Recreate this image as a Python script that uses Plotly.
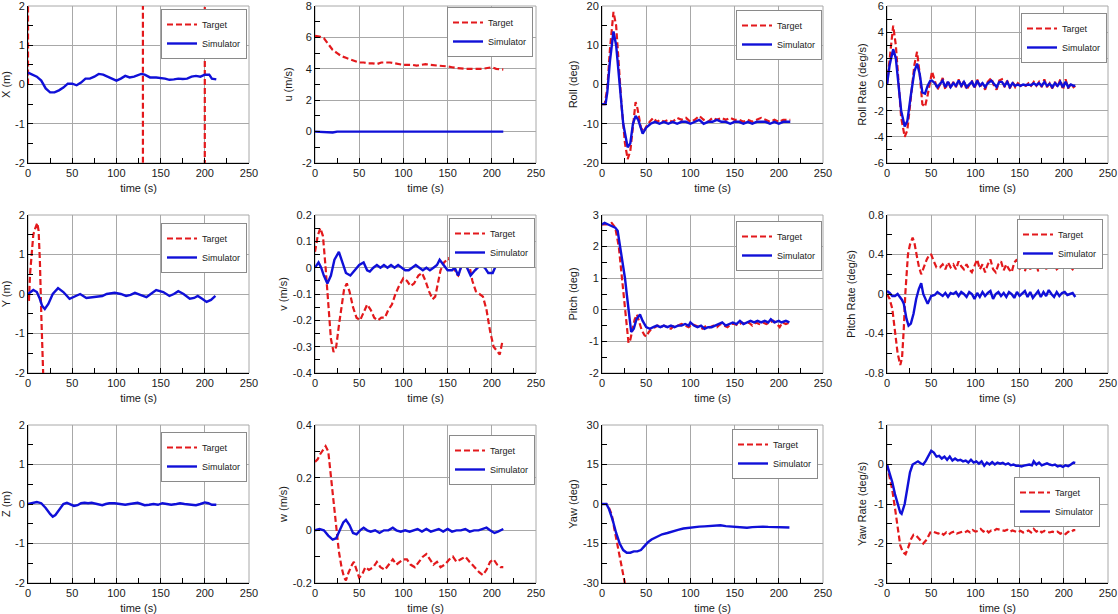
import plotly.graph_objects as go

W, H = 1118, 614
RED = "#e3191c"
BLUE = "#1010d8"
FONT = "Liberation Sans, Arial, sans-serif"

# ---------------- data ----------------
time_ticks = [0, 50, 100, 150, 200, 250]
time_ticktext = ["0", "50", "100", "150", "200", "250"]

# X (m)
x_tgt_t = [0, 1, 129.5, 130.5, 199.5, 200.5, 213]
x_tgt = [0, 500, 500, -500, -500, 500, 500]
x_sim_t = [0, 5, 10, 15, 20, 25, 30, 35, 40, 45, 50, 55, 60, 65, 70, 75, 80, 85, 90, 95, 100, 105, 110, 115, 120, 128, 132, 138, 145, 155, 160, 165, 170, 175, 180, 185, 190, 195, 200, 205, 208, 213]
x_sim = [0.3, 0.25, 0.2, 0.1, -0.1, -0.2, -0.2, -0.15, -0.08, 0.02, 0.02, -0.02, 0.05, 0.15, 0.15, 0.2, 0.27, 0.25, 0.2, 0.15, 0.1, 0.15, 0.22, 0.18, 0.2, 0.27, 0.25, 0.18, 0.18, 0.15, 0.12, 0.13, 0.15, 0.14, 0.15, 0.2, 0.22, 0.2, 0.25, 0.25, 0.15, 0.13]

# u (m/s)
u_tgt_t = [0, 5, 10, 15, 20, 25, 30, 35, 40, 45, 50, 55, 60, 65, 70, 75, 80, 85, 90, 95, 100, 110, 115, 120, 125, 130, 140, 145, 150, 155, 160, 170, 180, 190, 195, 200, 205, 213]
u_tgt = [6.1, 6.05, 5.95, 5.6, 5.2, 5.0, 4.8, 4.7, 4.6, 4.5, 4.4, 4.4, 4.35, 4.35, 4.3, 4.4, 4.4, 4.4, 4.35, 4.3, 4.25, 4.25, 4.2, 4.25, 4.3, 4.25, 4.2, 4.2, 4.15, 4.1, 4.05, 4.0, 4.0, 4.0, 4.05, 4.1, 4.0, 3.95]
u_sim_t = [0, 10, 15, 20, 25, 40, 60, 80, 100, 120, 140, 160, 180, 200, 213]
u_sim = [0, -0.03, -0.06, -0.06, 0, 0, 0.02, 0, 0.01, 0, 0, 0, 0, 0.02, 0]

# Roll (deg)
roll_tgt_t = [0, 3, 6, 9, 13, 16, 19, 22, 26, 29, 32, 35, 38, 40, 44, 47, 52, 56, 58, 62, 66, 70, 75, 80, 85, 90, 95, 100, 105, 110, 115, 120, 125, 130, 135, 140, 145, 150, 155, 160, 165, 170, 175, 180, 185, 190, 195, 200, 205, 213]
roll_tgt = [-5, -5, -1, 9, 18.5, 15, 5, -5, -15, -19, -17, -10, -4.5, -6, -11, -12, -10, -9, -8.5, -9.5, -9, -9.5, -9, -9.5, -8.5, -9, -8.5, -9.5, -9, -8, -9, -9.5, -8.5, -9, -8.5, -9, -8.5, -9, -9, -9.5, -9, -9.5, -9, -8.5, -9, -9.5, -9, -9.5, -9, -9]
roll_sim_t = [0, 4, 6, 9, 13, 16, 20, 24, 29, 32, 35, 38, 41, 46, 50, 55, 60, 65, 70, 75, 80, 85, 90, 95, 100, 105, 110, 115, 120, 125, 130, 135, 140, 145, 150, 155, 160, 165, 170, 175, 180, 185, 190, 195, 200, 205, 213]
roll_sim = [-5, -5, -2, 6, 13.5, 10, 0, -10, -16, -15, -10, -8, -9, -12.5, -11, -10, -9.5, -10, -9.5, -10, -9.5, -10, -9.5, -9.5, -10, -9.5, -9, -10, -9.5, -9.5, -9, -9.5, -9.5, -10, -9.5, -9.5, -10, -9.5, -10, -9.5, -9.5, -9.5, -10, -9.5, -10, -9.5, -9.5]

# Roll Rate (deg/s)
rollrate_t = [0, 3, 7, 10, 13, 16, 20, 23, 27, 31, 34, 37, 40, 43, 46, 49, 51, 54, 57, 60, 63, 66, 69, 72, 75, 78, 81, 84, 87, 90, 93, 96, 99, 102, 105, 108, 111, 114, 118, 121, 124, 127, 130, 133, 136, 139, 142, 145, 148, 151, 154, 157, 160, 163, 166, 169, 172, 175, 178, 181, 184, 187, 190, 193, 196, 199, 202, 205, 208, 211, 213]
rollrate_tgt = [0, 2, 4.5, 3, 0, -2.5, -4, -3.5, -1, 1.5, 2.5, 0.8, -1.5, -1.7, -0.8, 0.5, 1, 0.3, -0.4, 0, 0.5, -0.4, 0.3, -0.3, 0.2, -0.2, 0.4, -0.2, 0.3, -0.4, 0, 0.3, -0.3, 0.4, -0.2, 0.1, -0.4, 0.2, 0.5, -0.1, -0.4, 0.3, 0.4, -0.2, 0.3, -0.3, 0.2, -0.2, 0.1, -0.1, 0, -0.1, 0.1, -0.1, 0.2, -0.1, 0.2, -0.2, 0.4, -0.2, 0.1, -0.3, 0.2, -0.2, 0.4, -0.4, 0.4, -0.3, 0.1, -0.2, -0.1]
rollrate_sim = [0, 1.5, 2.7, 2, 0, -2, -3.2, -2.8, -0.8, 1, 1.6, 0.8, -0.6, -0.7, -0.1, 0.3, 0.3, 0.1, -0.2, 0.1, 0.3, -0.2, 0.2, -0.2, 0.1, -0.1, 0.3, -0.1, 0.2, -0.2, 0, 0.2, -0.2, 0.3, -0.1, 0.1, -0.2, 0.1, 0.3, 0, -0.2, 0.2, 0.2, -0.1, 0.2, -0.2, 0.1, -0.1, 0, -0.1, 0, -0.05, 0, -0.05, 0.1, -0.05, 0.1, -0.1, 0.2, -0.1, 0.05, -0.2, 0.1, -0.1, 0.2, -0.2, 0.2, -0.2, 0, -0.1, -0.1]

# Y (m)
y_tgt_t = [0, 1, 2.3, 4, 6, 8, 10.5, 12, 13.5, 15, 16.6, 18, 20, 60, 120, 213]
y_tgt = [0, -0.2, 0.5, 0.9, 1.5, 1.65, 1.8, 1.6, 0.8, -0.5, -2, -3, -4, -12, -22, -35]
y_sim_t = [0, 6, 10, 13, 16, 19, 23, 28, 34, 40, 47, 53, 59, 66, 72, 78, 84, 89, 98, 105, 111, 116, 121, 127, 134, 140, 145, 153, 160, 165, 170, 176, 183, 188, 192, 197, 202, 207, 212]
y_sim = [0, 0.1, 0.05, -0.1, -0.3, -0.38, -0.25, 0, 0.15, 0.05, -0.12, -0.05, 0, -0.1, -0.08, -0.07, -0.05, 0, 0.03, 0, -0.05, -0.02, 0.03, -0.02, -0.08, 0.02, 0.1, 0.05, -0.05, 0, 0.07, 0, -0.12, -0.1, -0.05, -0.12, -0.2, -0.15, -0.05]

# v (m/s)
v_tgt_t = [0, 3, 6, 9, 12, 15, 18, 21, 24, 27, 30, 33, 36, 39, 43, 47, 51, 55, 59, 63, 67, 71, 75, 79, 83, 87, 91, 95, 100, 104, 108, 112, 117, 121, 125, 129, 133, 136, 139, 142, 146, 151, 155, 159, 162, 166, 170, 174, 178, 182, 186, 190, 194, 198, 202, 206, 209, 212]
v_tgt = [0.06, 0.12, 0.15, 0.12, 0.0, -0.15, -0.27, -0.32, -0.3, -0.22, -0.14, -0.08, -0.06, -0.09, -0.15, -0.19, -0.2, -0.17, -0.14, -0.16, -0.19, -0.2, -0.19, -0.19, -0.16, -0.14, -0.1, -0.07, -0.04, -0.05, -0.07, -0.06, -0.03, -0.02, -0.05, -0.09, -0.12, -0.11, -0.06, -0.01, 0.02, 0.035, 0.02, -0.02, -0.03, 0.01, 0.06, 0.02, -0.05, -0.09, -0.1, -0.11, -0.16, -0.24, -0.3, -0.32, -0.33, -0.28]
v_sim_t = [0, 4, 7, 10, 14, 18, 22, 27, 31, 35, 40, 45, 50, 55, 59, 62, 66, 70, 74, 78, 82, 86, 90, 94, 98, 102, 106, 110, 114, 118, 122, 126, 130, 134, 138, 141, 145, 150, 155, 158, 162, 167, 172, 176, 181, 187, 192, 196, 201, 205, 210, 212]
v_sim = [0, 0.02, 0.0, -0.03, -0.06, -0.03, 0.03, 0.06, 0.02, -0.02, -0.03, -0.01, 0.01, 0.02, -0.01, -0.015, 0.0, 0.01, 0.0, 0.01, 0.0, 0.01, 0.0, 0.01, 0.0, -0.01, -0.01, 0.0, 0.01, 0.0, -0.01, 0.0, -0.01, 0.0, 0.01, 0.03, 0.01, -0.01, -0.01, 0.0, -0.03, 0.02, 0.0, -0.03, -0.01, 0.01, 0.0, -0.02, -0.02, 0.01, 0.025, 0.015]

# Pitch (deg)
pitch_tgt_t = [0, 5, 11, 15, 19, 22.5, 25.5, 28, 30, 32, 35, 37, 39.5, 42, 45, 48, 50, 53, 56, 60, 63, 66, 70, 74, 78, 82, 86, 90, 94, 98, 102, 106, 110, 114, 118, 122, 126, 130, 134, 138, 142, 146, 150, 154, 158, 162, 166, 170, 174, 178, 182, 186, 190, 194, 198, 201, 204, 208, 212]
pitch_tgt = [2.7, 2.7, 2.75, 2.6, 2.0, 1.0, 0.0, -0.7, -1.05, -0.95, -0.6, -0.3, -0.15, -0.35, -0.65, -0.8, -0.85, -0.7, -0.6, -0.55, -0.5, -0.55, -0.5, -0.55, -0.6, -0.5, -0.5, -0.45, -0.5, -0.55, -0.45, -0.5, -0.55, -0.6, -0.5, -0.55, -0.5, -0.55, -0.45, -0.5, -0.55, -0.45, -0.45, -0.5, -0.4, -0.45, -0.4, -0.5, -0.4, -0.45, -0.4, -0.45, -0.4, -0.35, -0.45, -0.55, -0.4, -0.45, -0.4]
pitch_sim_t = [0, 3, 7, 12, 15, 17.7, 20.7, 23.5, 26, 28, 30, 33, 36, 39, 43, 46, 50, 54, 58, 62, 66, 70, 74, 78, 82, 86, 90, 94, 98, 100, 104, 108, 112, 116, 120, 124, 128, 132, 136, 140, 144, 148, 152, 156, 160, 164, 168, 172, 176, 180, 184, 188, 191, 195, 200, 203, 208, 212]
pitch_sim = [2.7, 2.75, 2.7, 2.65, 2.6, 2.5, 2.0, 1.5, 1.0, 0.5, 0.0, -0.7, -0.6, -0.3, -0.15, -0.35, -0.55, -0.6, -0.55, -0.5, -0.55, -0.5, -0.55, -0.5, -0.55, -0.5, -0.5, -0.45, -0.5, -0.4, -0.5, -0.55, -0.5, -0.6, -0.55, -0.55, -0.5, -0.45, -0.4, -0.5, -0.45, -0.4, -0.45, -0.35, -0.45, -0.4, -0.35, -0.4, -0.35, -0.4, -0.35, -0.4, -0.3, -0.4, -0.35, -0.4, -0.35, -0.4]

# Pitch Rate (deg/s)
pitchrate_tgt_t = [0, 3, 6, 9, 12, 15, 17, 19, 20.7, 23.7, 26, 29, 31, 33, 36, 38.7, 42, 45, 48, 50, 53, 56, 60, 63, 66, 69, 72, 75, 78, 81, 84, 87, 90, 93, 96, 99, 102, 105, 108, 111, 114, 117, 120, 123, 126, 129, 132, 135, 138, 141, 144, 147, 150, 153, 156, 159, 162, 165, 168, 171, 174, 177, 180, 183, 186, 189, 192, 195, 198, 201, 204, 207, 210, 213]
pitchrate_tgt = [0, -0.05, -0.15, -0.35, -0.6, -0.72, -0.65, -0.35, 0.0, 0.4, 0.5, 0.57, 0.52, 0.42, 0.28, 0.2, 0.28, 0.35, 0.4, 0.4, 0.33, 0.27, 0.27, 0.3, 0.25, 0.32, 0.27, 0.3, 0.25, 0.33, 0.28, 0.25, 0.3, 0.25, 0.22, 0.28, 0.35, 0.25, 0.3, 0.22, 0.3, 0.35, 0.25, 0.22, 0.3, 0.33, 0.24, 0.3, 0.25, 0.22, 0.32, 0.35, 0.25, 0.3, 0.23, 0.33, 0.25, 0.3, 0.35, 0.23, 0.3, 0.35, 0.25, 0.3, 0.27, 0.3, 0.25, 0.28, 0.3, 0.25, 0.32, 0.28, 0.25, 0.28]
pitchrate_sim_t = [0, 3, 6, 9, 12, 15, 17, 19, 22, 24.4, 27, 30, 33, 36, 38.7, 41, 43.5, 46, 50, 54, 57, 60, 63, 66, 69, 72, 75, 78, 81, 84, 87, 90, 93, 96, 99, 102, 105, 108, 111, 114, 117, 120, 123, 126, 129, 132, 135, 138, 141, 144, 147, 150, 153, 156, 159, 162, 165, 168, 171, 174, 177, 180, 183, 186, 189, 192, 195, 198, 201, 204, 207, 210, 213]
pitchrate_sim = [0.03, 0.01, -0.02, -0.02, 0.0, -0.03, -0.06, -0.1, -0.25, -0.32, -0.3, -0.2, -0.05, 0.05, 0.11, 0.0, -0.05, -0.1, -0.02, -0.01, 0.02, 0.0, -0.02, 0.01, -0.03, 0.01, 0.0, 0.02, -0.02, 0.02, 0.0, -0.03, 0.02, 0.0, -0.05, 0.01, -0.03, 0.02, -0.02, 0.01, 0.03, -0.05, 0.0, 0.02, -0.02, 0.01, -0.03, 0.02, 0.0, -0.04, 0.02, -0.02, 0.01, 0.03, -0.03, 0.02, -0.04, 0.0, 0.03, -0.03, 0.02, -0.02, 0.04, 0.0, -0.03, 0.02, -0.02, 0.01, 0.02, -0.01, 0.0, 0.01, -0.03]

# Z (m)
z_tgt_t = [0, 213]
z_tgt = [4, 4]
z_sim_t = [0, 5, 10, 15, 20, 25, 28, 31, 35, 40, 44, 48, 52, 56, 60, 64, 68, 72, 78, 84, 88, 92, 98, 105, 110, 115, 120, 124, 128, 132, 137, 142, 147, 152, 157, 162, 168, 172, 177, 185, 190, 195, 200, 204, 208, 213]
z_sim = [0, 0.02, 0.05, 0.02, -0.1, -0.25, -0.32, -0.28, -0.15, 0, 0.03, 0, -0.05, -0.03, 0.02, 0.03, 0.02, 0.03, 0.0, -0.03, 0, 0.02, 0.02, 0.0, -0.02, 0.0, 0.02, 0.03, 0.0, -0.03, -0.02, 0, -0.02, 0.02, 0.0, -0.02, 0.0, 0.02, 0.0, -0.03, -0.03, 0, 0.04, 0.02, -0.02, -0.02]

# w (m/s)
w_tgt_t = [0, 3, 6, 10, 12, 15, 18, 21, 24, 27, 30, 33, 35, 38, 42, 44, 47, 50, 53, 57, 61, 66, 70, 74, 79, 84, 88, 92, 96, 100, 104, 108, 113, 118, 122, 126, 130, 134, 138, 142, 147, 152, 156, 160, 165, 170, 175, 180, 186, 190, 194, 198, 202, 206, 210, 213]
w_tgt = [0.26, 0.27, 0.29, 0.31, 0.32, 0.3, 0.2, 0.1, 0.02, -0.08, -0.14, -0.18, -0.19, -0.16, -0.13, -0.12, -0.15, -0.18, -0.17, -0.14, -0.15, -0.14, -0.12, -0.14, -0.15, -0.13, -0.11, -0.13, -0.12, -0.11, -0.11, -0.13, -0.14, -0.12, -0.1, -0.09, -0.11, -0.13, -0.12, -0.14, -0.13, -0.11, -0.1, -0.12, -0.11, -0.1, -0.12, -0.14, -0.16, -0.17, -0.15, -0.12, -0.11, -0.13, -0.14, -0.14]
w_sim_t = [0, 5, 10, 15, 20, 24, 28, 32, 35, 39, 43, 47, 51, 55, 59, 63, 68, 73, 78, 83, 88, 92, 97, 102, 107, 112, 116, 121, 126, 131, 136, 140, 145, 150, 155, 160, 165, 170, 175, 180, 185, 190, 194, 198, 203, 207, 213]
w_sim = [0, 0.005, 0.0, -0.02, -0.035, -0.03, 0.0, 0.03, 0.04, 0.02, -0.01, -0.015, 0.0, 0.01, 0.0, -0.005, 0.0, -0.01, 0.0, 0.0, 0.01, 0, -0.005, 0.0, -0.005, 0.0, 0.005, -0.005, 0.005, -0.005, 0.0, 0.005, -0.005, 0.005, -0.005, 0.0, 0.0, 0.005, -0.005, 0, 0.0, 0.005, 0.01, 0.0, -0.01, -0.005, 0.005]

# Yaw (deg)
yaw_tgt_t = [0, 5, 8, 11, 14, 17, 20, 23.7, 30, 60, 120, 213]
yaw_tgt = [0, 0, -1.5, -4, -9.5, -16, -22.5, -30, -40, -92, -195, -355]
yaw_sim_t = [0, 5, 8, 12, 16, 20, 24, 28, 32, 36, 40, 44, 48, 52, 56, 62, 68, 74, 80, 86, 92, 98, 104, 110, 116, 122, 128, 134, 140, 146, 152, 158, 164, 170, 176, 182, 188, 194, 200, 206, 212]
yaw_sim = [0, 0, -2, -6, -11, -15, -17.5, -18.5, -18.5, -18, -18, -17.5, -16, -14.5, -13.5, -12.5, -11.5, -11, -10.3, -9.8, -9.3, -9, -8.7, -8.6, -8.5, -8.4, -8.2, -8.1, -8.4, -8.6, -8.8, -8.8, -9.0, -8.8, -8.6, -8.6, -8.7, -8.8, -8.9, -9.0, -8.9]

# Yaw Rate (deg/s)
yawrate_tgt_t = [0, 3, 6, 9, 12, 15, 18, 21, 24, 27, 30, 33, 37, 41, 45, 49, 52, 55, 58, 61, 64, 67, 70, 73, 76, 79, 82, 85, 88, 91, 94, 97, 100, 103, 106, 109, 112, 115, 118, 121, 124, 127, 130, 133, 136, 139, 142, 145, 148, 151, 154, 157, 160, 163, 166, 169, 172, 175, 178, 181, 184, 187, 190, 193, 196, 199, 202, 205, 208, 211, 213]
yawrate_tgt = [0, -0.3, -0.65, -1.1, -1.65, -2.05, -2.22, -2.27, -2.1, -1.9, -1.78, -1.8, -1.9, -2.0, -1.9, -1.72, -1.7, -1.72, -1.75, -1.72, -1.78, -1.72, -1.77, -1.72, -1.7, -1.75, -1.72, -1.7, -1.72, -1.68, -1.72, -1.66, -1.7, -1.68, -1.63, -1.7, -1.65, -1.72, -1.67, -1.68, -1.63, -1.65, -1.66, -1.68, -1.65, -1.7, -1.67, -1.7, -1.72, -1.68, -1.72, -1.7, -1.67, -1.72, -1.63, -1.7, -1.66, -1.72, -1.68, -1.7, -1.72, -1.7, -1.72, -1.7, -1.75, -1.72, -1.76, -1.7, -1.72, -1.66, -1.66]
yawrate_sim_t = [0, 3, 6, 9, 12, 15, 16.5, 18, 20, 23, 26, 29, 32, 35, 38, 41, 44, 48, 50, 53, 56, 59, 62, 65, 68, 71, 74, 77, 80, 83, 86, 89, 92, 95, 98, 101, 104, 107, 110, 113, 116, 119, 122, 125, 128, 131, 134, 137, 140, 143, 146, 149, 152, 155, 158, 161, 164, 166, 169, 172, 175, 178, 181, 184, 187, 190, 193, 196, 199, 202, 205, 208, 211, 213]
yawrate_sim = [0, -0.2, -0.45, -0.75, -1.0, -1.22, -1.25, -1.15, -1.0, -0.6, -0.2, 0.0, 0.05, 0.08, 0.03, 0.0, 0.1, 0.25, 0.35, 0.3, 0.2, 0.22, 0.15, 0.2, 0.12, 0.2, 0.1, 0.15, 0.1, 0.12, 0.08, 0.1, 0.05, 0.12, 0.05, 0.08, 0.02, 0.08, -0.03, 0.05, 0.0, 0.06, 0.0, 0.05, 0.02, 0.04, 0.0, 0.03, -0.02, 0.0, -0.03, -0.03, -0.05, -0.03, -0.02, 0.0, -0.02, 0.08, 0.0, 0.05, -0.02, 0.0, 0.03, 0.0, -0.02, 0.0, -0.05, -0.03, -0.06, -0.02, -0.04, 0.0, 0.05, 0.04]

# y-axis tick values / labels
ticks_pm2 = [-2, -1, 0, 1, 2]
ticks_u = [-2, 0, 2, 4, 6, 8]
ticks_roll = [-20, -10, 0, 10, 20]
ticks_rollrate = [-6, -4, -2, 0, 2, 4, 6]
ticks_v = [-0.4, -0.3, -0.2, -0.1, 0, 0.1, 0.2]
ticks_v_text = ["-0.4", "-0.3", "-0.2", "-0.1", "0", "0.1", "0.2"]
ticks_pitch = [-2, -1, 0, 1, 2, 3]
ticks_pitchrate = [-0.8, -0.4, 0, 0.4, 0.8]
ticks_pitchrate_text = ["-0.8", "-0.4", "0", "0.4", "0.8"]
ticks_w = [-0.2, 0, 0.2, 0.4]
ticks_w_text = ["-0.2", "0", "0.2", "0.4"]
ticks_yaw = [-30, -15, 0, 15, 30]
ticks_yawrate = [-3, -2, -1, 0, 1]

# ---------------- layout geometry (pixels) ----------------
col_px = [(28, 249), (315, 536), (602, 823), (887, 1108)]
row_px = [(6, 163), (215, 373), (425, 583)]

panels = [
    # row, col, title, ticks, ticktext, minor, target, sim, legend (right px, top px), ytitle standoff
    (0, 0, "X (m)", ticks_pm2, None, 0.5, (x_tgt_t, x_tgt), (x_sim_t, x_sim), (247, 9), 2),
    (0, 1, "u (m/s)", ticks_u, None, 1, (u_tgt_t, u_tgt), (u_sim_t, u_sim), (533, 7), 7),
    (0, 2, "Roll (deg)", ticks_roll, None, 5, (roll_tgt_t, roll_tgt), (roll_sim_t, roll_sim), (822, 10), 3),
    (0, 3, "Roll Rate (deg/s)", ticks_rollrate, None, 1, (rollrate_t, rollrate_tgt), (rollrate_t, rollrate_sim), (1107, 13), 5),
    (1, 0, "Y (m)", ticks_pm2, None, 0.5, (y_tgt_t, y_tgt), (y_sim_t, y_sim), (247, 223), 3),
    (1, 1, "v (m/s)", ticks_v, ticks_v_text, 0.05, (v_tgt_t, v_tgt), (v_sim_t, v_sim), (535, 218), 2),
    (1, 2, "Pitch (deg)", ticks_pitch, None, 0.5, (pitch_tgt_t, pitch_tgt), (pitch_sim_t, pitch_sim), (822, 221), 9),
    (1, 3, "Pitch Rate (deg/s)", ticks_pitchrate, ticks_pitchrate_text, 0.2, (pitchrate_tgt_t, pitchrate_tgt), (pitchrate_sim_t, pitchrate_sim), (1103, 219), 6),
    (2, 0, "Z (m)", ticks_pm2, None, 0.5, (z_tgt_t, z_tgt), (z_sim_t, z_sim), (247, 432), 3),
    (2, 1, "w (m/s)", ticks_w, ticks_w_text, 0.1, (w_tgt_t, w_tgt), (w_sim_t, w_sim), (535, 435), 2),
    (2, 2, "Yaw (deg)", ticks_yaw, None, 7.5, (yaw_tgt_t, yaw_tgt), (yaw_sim_t, yaw_sim), (818, 429), 3),
    (2, 3, "Yaw Rate (deg/s)", ticks_yawrate, None, 0.5, (yawrate_tgt_t, yawrate_tgt), (yawrate_sim_t, yawrate_sim), (1100, 477), 5),
]

fig = go.Figure()
layout = dict(
    width=W, height=H, autosize=False,
    margin=dict(l=0, r=0, t=0, b=0, pad=0, autoexpand=False),
    paper_bgcolor="white", plot_bgcolor="white",
    font=dict(family=FONT, size=11, color="#1a1a1a"),
    shapes=[],
)

GRID = "#a8a8a8"
for i, (r, c, title, tv, tt, minor, tgt, sim, leg, ystand) in enumerate(panels):
    n = i + 1
    sfx = "" if n == 1 else str(n)
    xa, ya, lg = "x" + sfx, "y" + sfx, "legend" + sfx
    fig.add_trace(go.Scatter(x=tgt[0], y=tgt[1], xaxis=xa, yaxis=ya, legend=lg,
                             name="Target", mode="lines",
                             line=dict(color=RED, width=2.2, dash="6px,3px")))
    fig.add_trace(go.Scatter(x=sim[0], y=sim[1], xaxis=xa, yaxis=ya, legend=lg,
                             name="Simulator", mode="lines",
                             line=dict(color=BLUE, width=2.4)))
    x0, x1 = col_px[c]
    y0, y1 = row_px[r]
    common = dict(showline=True, linecolor="black", linewidth=1, mirror=False,
                  ticks="inside", ticklen=5, tickcolor="black", tickwidth=1,
                  showgrid=True, gridcolor=GRID, gridwidth=1, zeroline=False,
                  automargin=True, ticklabeloverflow="allow",
                  tickfont=dict(size=11, family=FONT, color="#1a1a1a"))
    layout["xaxis" + sfx] = dict(
        common, domain=[x0 / W, x1 / W], anchor=ya, range=[0, 250],
        tickmode="array", tickvals=time_ticks, ticktext=time_ticktext,
        minor=dict(tickmode="linear", tick0=0, dtick=25, ticks="inside",
                   ticklen=5, tickcolor="black", showgrid=False),
        title=dict(text="time (s)", font=dict(size=11, family=FONT), standoff=6),
    )
    layout["yaxis" + sfx] = dict(
        common, domain=[1 - y1 / H, 1 - y0 / H], anchor=xa,
        range=[tv[0], tv[-1]], tickmode="array", tickvals=tv,
        ticktext=tt if tt is not None else [str(v) for v in tv],
        minor=dict(tickmode="linear", tick0=tv[0], dtick=minor, ticks="inside",
                   ticklen=5, tickcolor="black", showgrid=False),
        title=dict(text=title, font=dict(size=11, family=FONT), standoff=ystand),
    )
    layout[lg] = dict(
        x=leg[0] / W, y=1 - leg[1] / H, xanchor="right", yanchor="top",
        bgcolor="white", bordercolor="#8a8a8a", borderwidth=1,
        font=dict(size=9, family=FONT, color="#1a1a1a"),
        tracegroupgap=0, itemwidth=30,
    )
    layout["shapes"].append(dict(type="rect", xref=xa + " domain", yref=ya + " domain",
                                 x0=0, x1=1, y0=0, y1=1, layer="below",
                                 line=dict(color=GRID, width=1)))

fig.update_layout(**layout)
fig.write_html(
    "out.html",
    config={"displayModeBar": False},
    post_script="document.body.style.margin='0';document.body.style.padding='0';"
                "document.body.style.overflow='hidden';",
)
